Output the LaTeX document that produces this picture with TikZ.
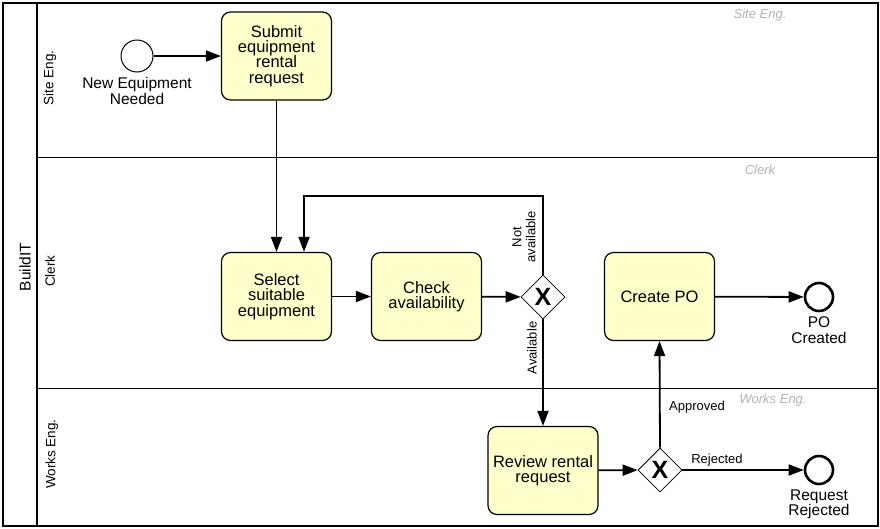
\documentclass[tikz,border=0pt]{standalone}
\usepackage{fontspec}
\setmainfont{Liberation Sans}
\usetikzlibrary{arrows.meta,shapes.geometric,positioning}
\definecolor{taskfill}{RGB}{255,255,204}
\begin{document}
\begin{tikzpicture}[x=1pt,y=-1pt,
  task/.style={draw,line width=1.2pt,rounded corners=9pt,fill=taskfill,minimum width=110pt,minimum height=88pt,align=center,font=\fontsize{16.5}{15.4}\selectfont,inner sep=0pt},
  gw/.style={draw,diamond,line width=0.8pt,fill=white,minimum width=44pt,minimum height=44pt,inner sep=0pt,font=\fontsize{25}{25}\selectfont\bfseries},
  startev/.style={draw,circle,line width=1pt,fill=white,minimum size=32pt,inner sep=0pt},
  endev/.style={draw,circle,line width=2.6pt,fill=white,minimum size=28pt,inner sep=0pt},
  flow/.style={line width=1.8pt,-{Triangle[length=15pt,width=11pt]}},
  evlabel/.style={align=center,font=\fontsize{15.5}{15.8}\selectfont,inner sep=0pt},
  flowlabel/.style={font=\fontsize{13}{14}\selectfont,inner sep=0pt,align=center},
  lanename/.style={font=\fontsize{13.5}{14}\selectfont,rotate=90,inner sep=0pt},
  watermark/.style={font=\fontsize{13}{14}\selectfont\itshape,text=black!30,inner sep=0pt}]
\useasboundingbox (0,0) rectangle (880,528);
% pool
\draw[line width=1.4pt] (3,3) rectangle (878,526);
\draw[line width=1.4pt] (37,3) -- (37,526);
\draw[line width=1pt] (37,157) -- (878,157);
\draw[line width=1pt] (37,388) -- (878,388);
\node[rotate=90,font=\fontsize{15.5}{16}\selectfont,inner sep=0pt] (pool) at (25,267) {BuildIT};
\node[lanename] (l1) at (50,78) {Site Eng.};
\node[lanename] (l2) at (50,271) {Clerk};
\node[lanename] (l3) at (52,454) {Works Eng.};
\node[watermark] (w1) at (760,15) {Site Eng.};
\node[watermark] (w2) at (760,170) {Clerk};
\node[watermark] (w3) at (773,400) {Works Eng.};
% nodes
\node[startev] (start) at (137,56) {};
\node[evlabel,below=5pt of start] (startl) {New Equipment\\Needed};
\node[task] (submit) at (276.5,56) {Submit\\equipment\\rental\\request};
\node[task] (select) at (276.5,296.5) {Select\\suitable\\equipment};
\node[task] (check) at (426.5,296.5) {Check\\availability};
\node[gw] (g1) at (543,297) {X};
\node[task] (po) at (659.5,296.5) {Create PO};
\node[endev] (endpo) at (819,297) {};
\node[evlabel,below=4pt of endpo] (endpol) {PO\\Created};
\node[task] (review) at (543,470.5) {Review rental\\request};
\node[gw] (g2) at (660,470) {X};
\node[endev] (endrej) at (819,470) {};
\node[evlabel,below=4pt of endrej] (endrejl) {Request\\Rejected};
\coordinate (c1) at (543,196);
\coordinate (c2) at (304,196);
% flows
\draw[flow] (start) -- (submit);
\draw[flow] (submit.south) -- (select.north);
\draw[flow] (select) -- (check);
\draw[flow] (check) -- (g1);
\draw[flow] (g1.north) -- (c1) -- (c2) -- (c2 |- select.north);
\draw[flow] (g1.south) -- (review.north);
\draw[flow] (review) -- (g2);
\draw[flow] (g2.east) -- (endrej);
\draw[flow] (g2.north) -- (po.south);
\draw[flow] (po) -- (endpo);
\node[flowlabel,rotate=90] (na) at (524,237) {Not\\available};
\node[flowlabel,rotate=90] (av) at (532,348) {Available};
\node[flowlabel] (ap) at (697,407) {Approved};
\node[flowlabel] (rj) at (717,460) {Rejected};
\end{tikzpicture}
\end{document}
